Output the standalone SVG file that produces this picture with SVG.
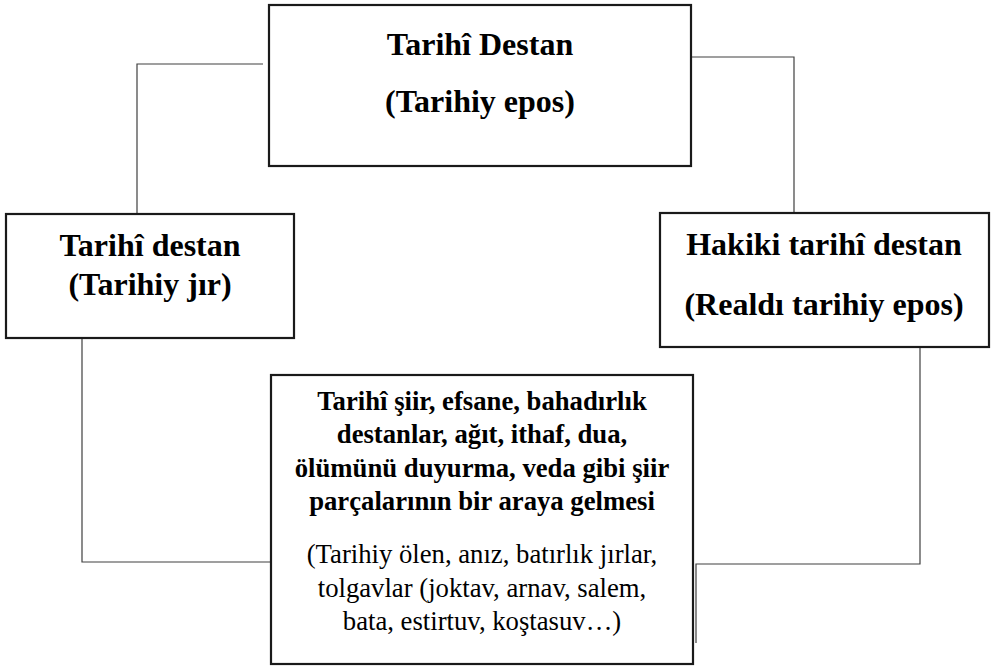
<svg xmlns="http://www.w3.org/2000/svg" width="994" height="666" viewBox="0 0 994 666">
<style>
.box{fill:#fff;stroke:#1a1a1a;stroke-width:2.2}
.conn{fill:none;stroke:#404040;stroke-width:1.2}
text{font-family:'Liberation Serif','Tinos','DejaVu Serif',serif;fill:#000;text-anchor:middle}
.b{font-weight:bold}
.big{font-size:32px}
.sm{font-size:26.7px}
</style>
<rect width="994" height="666" fill="#fff"/>
<g id="connectors">
<polyline class="conn" points="263,64 137,64 137,214"/>
<polyline class="conn" points="691,57 794,57 794,213"/>
<polyline class="conn" points="82,338 82,562 271,562"/>
<polyline class="conn" points="920,347 920,564 696,564 696,643"/>
</g>
<g id="node-top">
<rect class="box" x="269" y="5" width="422" height="161"/>
<text class="b big" x="480" y="55">Tarihî Destan</text>
<text class="b big" x="480" y="112">(Tarihiy epos)</text>
</g>
<g id="node-left">
<rect class="box" x="6" y="214" width="288" height="124"/>
<text class="b big" x="150" y="256">Tarihî destan</text>
<text class="b big" x="150" y="295">(Tarihiy jır)</text>
</g>
<g id="node-right">
<rect class="box" x="660" y="213" width="329" height="134"/>
<text class="b big" x="824" y="255">Hakiki tarihî destan</text>
<text class="b big" x="824" y="315">(Realdı tarihiy epos)</text>
</g>
<g id="node-bottom">
<rect class="box" x="271" y="375" width="422" height="289"/>
<text class="b sm" x="482" y="410">Tarihî şiir, efsane, bahadırlık</text>
<text class="b sm" x="482" y="443">destanlar, ağıt, ithaf, dua,</text>
<text class="b sm" x="482" y="477">ölümünü duyurma, veda gibi şiir</text>
<text class="b sm" x="482" y="510">parçalarının bir araya gelmesi</text>
<text class="sm" x="482" y="563">(Tarihiy ölen, anız, batırlık jırlar,</text>
<text class="sm" x="482" y="597">tolgavlar (joktav, arnav, salem,</text>
<text class="sm" x="482" y="630">bata, estirtuv, koştasuv…)</text>
</g>
</svg>
